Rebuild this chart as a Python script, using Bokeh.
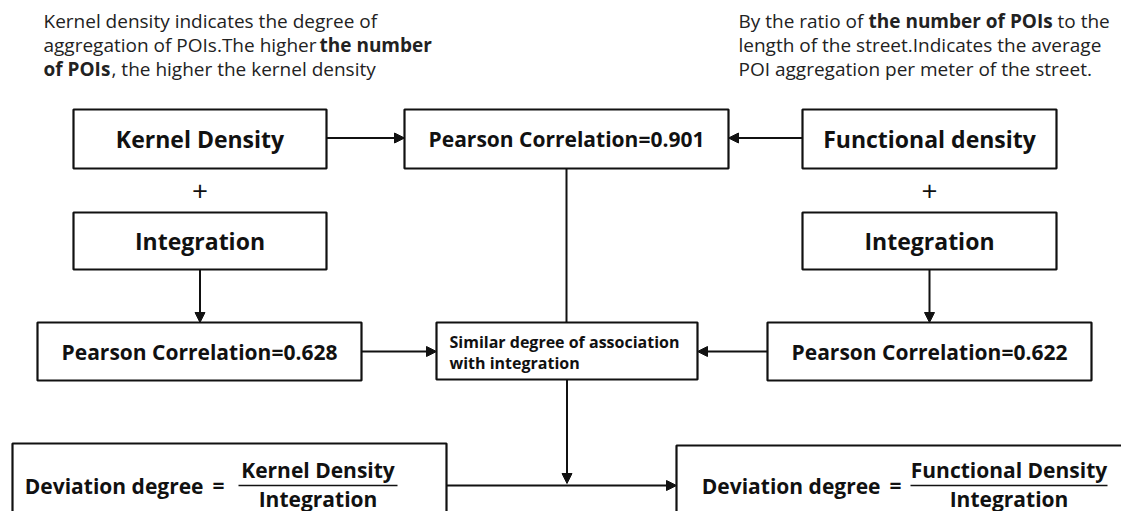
from bokeh.plotting import figure
from bokeh.models import Range1d, Arrow, NormalHead
from bokeh.core.properties import value
from bokeh.embed import file_html
from bokeh.resources import INLINE

FONT = "Open Sans"

# ---------------- content ----------------
correlations = [0.901, 0.628, 0.622]
corr_labels = ["Pearson Correlation=%.3f" % c for c in correlations]
top_labels = ["Kernel Density", "Functional density"]
mid_labels = ["Integration", "Integration"]
similar_lines = ["Similar degree of association", "with integration"]
dev_prefix = "Deviation degree"
numerators = ["Kernel Density", "Functional Density"]
denominators = ["Integration", "Integration"]

# annotation segments: (text, bold?)
left_note = [
    [("Kernel density indicates the degree of", False)],
    [("aggregation of POIs.The higher", False), ("the number", True)],
    [("of POIs", True), (", the higher the kernel density", False)],
]
right_note = [
    [("By the ratio of", False), ("the number of POIs", True), ("to the", False)],
    [("length of the street.Indicates the average", False)],
    [("POI aggregation per meter of the street.", False)],
]

# ---------------- layout (pixel space of the picture) ----------------
NOTE_SIZE = 19
left_note_x = [[43], [43, 319], [43, 111]]
right_note_x = [[738, 868, 1057], [738], [738]]
note_y = [20, 44, 68]

# boxes: left, right, top, bottom
kd_box = (73, 326, 109, 168)
pc1_box = (404, 728, 109, 168)
fd_box = (802, 1056, 109, 168)
int_l_box = (73, 326, 212, 269)
int_r_box = (802, 1056, 212, 269)
pc2_box = (37, 361, 322, 380)
pc3_box = (767, 1091, 322, 380)
sim_box = (436, 697, 322, 379)
dev_l_box = (12, 446, 443, 560)
dev_r_box = (676, 1160, 445, 560)

p = figure(width=1121, height=511, output_backend="svg", toolbar_location=None,
           x_range=Range1d(0, 1121), y_range=Range1d(511, 0),
           min_border=0, background_fill_color="white", border_fill_color="white")
p.axis.visible = False
p.grid.visible = False
p.outline_line_color = None

boxes = [kd_box, pc1_box, fd_box, int_l_box, int_r_box, pc2_box, pc3_box,
         sim_box, dev_l_box, dev_r_box]
p.quad(left=[b[0] for b in boxes], right=[b[1] for b in boxes],
       top=[b[2] for b in boxes], bottom=[b[3] for b in boxes],
       fill_color="white", line_color="#111111", line_width=2.2)

def cx(b):
    return (b[0] + b[1]) / 2

def cy(b):
    return (b[2] + b[3]) / 2

def txt(xs, ys, texts, size, bold=False, align="center", color="#111111"):
    p.text(x=xs, y=ys, text=texts, text_font=value(FONT),
           text_font_size=value("%gpx" % size),
           text_font_style="bold" if bold else "normal",
           text_align=align, text_baseline="middle", text_color=color)

# notes
for lines, xs_list in ((left_note, left_note_x), (right_note, right_note_x)):
    for li, (segs, xs) in enumerate(zip(lines, xs_list)):
        for (s, b), x in zip(segs, xs):
            txt([x], [note_y[li]], [s], NOTE_SIZE, bold=b, align="left", color="#222222")

# box labels
txt([cx(kd_box), cx(fd_box)], [cy(kd_box), cy(fd_box)], top_labels, 23, bold=True)
txt([cx(int_l_box), cx(int_r_box)], [cy(int_l_box), cy(int_r_box)], mid_labels, 23, bold=True)
txt([cx(pc1_box), cx(pc2_box), cx(pc3_box)], [cy(pc1_box), cy(pc2_box), cy(pc3_box)],
    corr_labels, 21, bold=True)
txt([449, 449], [341, 362], similar_lines, 16, bold=True, align="left")

# plus signs
txt([cx(kd_box), cx(fd_box)], [190, 190], ["+", "+"], 28, bold=False)

# deviation formulas
frac_y = 485
frac_l = (238, 397)
frac_r = (910, 1107)
txt([203, 880], [frac_y, frac_y], [dev_prefix, dev_prefix], 21, bold=True, align="right")
txt([218, 895], [frac_y - 1, frac_y - 1], ["=", "="], 21, bold=True)
p.segment(x0=[frac_l[0], frac_r[0]], x1=[frac_l[1], frac_r[1]], y0=[frac_y, frac_y],
          y1=[frac_y, frac_y], line_color="#111111", line_width=1.5)
txt([sum(frac_l) / 2, sum(frac_r) / 2], [frac_y - 16, frac_y - 16], numerators, 21, bold=True)
txt([sum(frac_l) / 2, sum(frac_r) / 2], [frac_y + 13, frac_y + 13], denominators, 21, bold=True)

# plain connector line
p.segment(x0=[cx(pc1_box)], y0=[pc1_box[3]], x1=[cx(pc1_box)], y1=[sim_box[2]],
          line_color="#111111", line_width=2)

def arrow(x0, y0, x1, y1):
    p.add_layout(Arrow(end=NormalHead(size=10, fill_color="#111111", line_color="#111111", line_width=1),
                       x_start=x0, y_start=y0, x_end=x1, y_end=y1,
                       line_color="#111111", line_width=2))

arrow(kd_box[1], cy(kd_box) - 1, pc1_box[0], cy(kd_box) - 1)
arrow(fd_box[0], cy(fd_box) - 1, pc1_box[1], cy(fd_box) - 1)
arrow(cx(int_l_box), int_l_box[3], cx(int_l_box), pc2_box[2])
arrow(cx(int_r_box), int_r_box[3], cx(int_r_box), pc3_box[2])
arrow(pc2_box[1], 351, sim_box[0], 351)
arrow(pc3_box[0], 351, sim_box[1], 351)
arrow(cx(sim_box), sim_box[3], cx(sim_box), frac_y - 2)
arrow(dev_l_box[1], frac_y, dev_r_box[0], frac_y)

open("out.html", "w").write(file_html(p, INLINE))
